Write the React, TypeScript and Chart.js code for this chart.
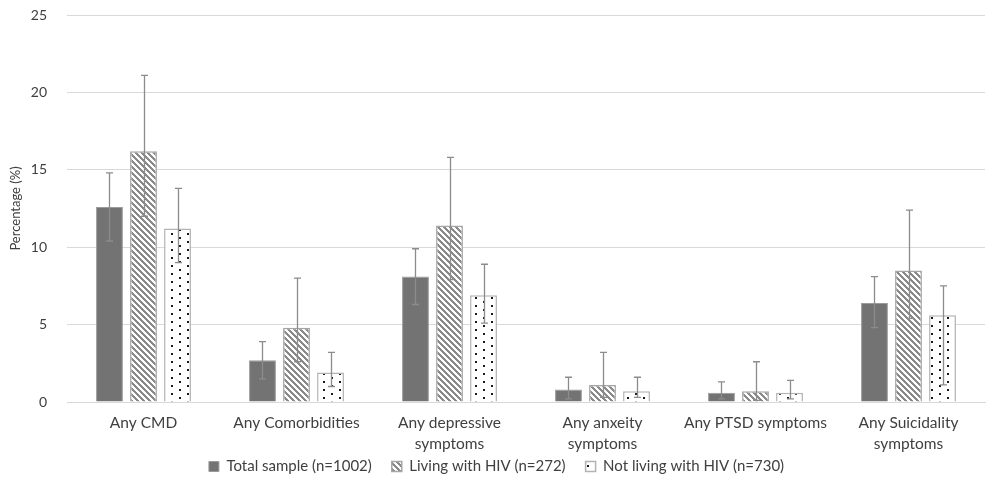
import React, { useEffect, useRef } from "react";
import { Chart, registerables } from "chart.js";

Chart.register(...registerables);

const categories: (string | string[])[] = [
  "Any CMD",
  "Any Comorbidities",
  ["Any depressive", "symptoms"],
  ["Any anxeity", "symptoms"],
  "Any PTSD symptoms",
  ["Any Suicidality", "symptoms"],
];

const seriesNames = ["Total sample (n=1002)", "Living with HIV (n=272)", "Not living with HIV (n=730)"];

const totalValues = [12.6, 2.7, 8.1, 0.8, 0.6, 6.4];
const totalLower = [10.4, 1.5, 6.3, 0.2, 0.2, 4.8];
const totalUpper = [14.8, 3.9, 9.9, 1.6, 1.3, 8.1];

const hivValues = [16.2, 4.8, 11.4, 1.1, 0.7, 8.5];
const hivLower = [12.0, 2.6, 7.9, 0.3, 0.1, 5.4];
const hivUpper = [21.1, 8.0, 15.8, 3.2, 2.6, 12.4];

const nonHivValues = [11.2, 1.9, 6.9, 0.7, 0.6, 5.6];
const nonHivLower = [9.0, 1.0, 5.1, 0.3, 0.2, 1.1];
const nonHivUpper = [13.8, 3.2, 8.9, 1.6, 1.4, 7.5];

const yTicks = [0, 5, 10, 15, 20, 25];

function makeStripePattern(): CanvasPattern | string {
  const s = 6;
  const c = document.createElement("canvas");
  c.width = s;
  c.height = s;
  const ctx = c.getContext("2d");
  if (!ctx) return "#8a8a8a";
  const img = ctx.createImageData(s, s);
  for (let y = 0; y < s; y++) {
    for (let x = 0; x < s; x++) {
      const k = (((x - y) % s) + s) % s;
      const on = k < 3;
      const i = (y * s + x) * 4;
      const v = on ? 0x8a : 0xff;
      img.data[i] = v;
      img.data[i + 1] = v;
      img.data[i + 2] = v;
      img.data[i + 3] = 255;
    }
  }
  ctx.putImageData(img, 0, 0);
  return ctx.createPattern(c, "repeat") || "#8a8a8a";
}

function makeDotPattern(): CanvasPattern | string {
  const c = document.createElement("canvas");
  c.width = 16;
  c.height = 8;
  const ctx = c.getContext("2d");
  if (!ctx) return "#ffffff";
  ctx.fillStyle = "#ffffff";
  ctx.fillRect(0, 0, 16, 8);
  ctx.fillStyle = "#1a1a1a";
  ctx.fillRect(3, 1, 2, 2);
  ctx.fillRect(11, 5, 2, 2);
  return ctx.createPattern(c, "repeat") || "#ffffff";
}

const errorBarPlugin = {
  id: "errorBars",
  afterDatasetsDraw(chart: any) {
    const ctx = chart.ctx;
    const yScale = chart.scales.y;
    ctx.save();
    ctx.strokeStyle = "#8c8c8c";
    ctx.lineWidth = 1.3;
    chart.data.datasets.forEach((ds: any, di: number) => {
      const meta = chart.getDatasetMeta(di);
      if (meta.hidden) return;
      meta.data.forEach((bar: any, i: number) => {
        const lo = ds.errLow[i];
        const hi = ds.errHigh[i];
        const x = Math.round(bar.x) + 0.5;
        const yLo = yScale.getPixelForValue(lo);
        const yHi = yScale.getPixelForValue(hi);
        const cap = 3.5;
        ctx.beginPath();
        ctx.moveTo(x, yLo);
        ctx.lineTo(x, yHi);
        ctx.moveTo(x - cap, yHi);
        ctx.lineTo(x + cap, yHi);
        ctx.moveTo(x - cap, yLo);
        ctx.lineTo(x + cap, yLo);
        ctx.stroke();
      });
    });
    ctx.restore();
  },
};

export default function App() {
  const canvasRef = useRef<HTMLCanvasElement | null>(null);

  useEffect(() => {
    if (!canvasRef.current) return;
    const stripes = makeStripePattern();
    const dots = makeDotPattern();
    const font = "Lato, 'Open Sans', sans-serif";
    const chart = new Chart(canvasRef.current, {
      type: "bar",
      data: {
        labels: categories,
        datasets: [
          {
            label: seriesNames[0],
            data: totalValues,
            backgroundColor: "#737373",
            borderColor: "#9a9a9a",
            borderWidth: 1,
            errLow: totalLower,
            errHigh: totalUpper,
          } as any,
          {
            label: seriesNames[1],
            data: hivValues,
            backgroundColor: stripes,
            borderColor: "#a6a6a6",
            borderWidth: 1.5,
            errLow: hivLower,
            errHigh: hivUpper,
          } as any,
          {
            label: seriesNames[2],
            data: nonHivValues,
            backgroundColor: dots,
            borderColor: "#b3b3b3",
            borderWidth: 1.5,
            errLow: nonHivLower,
            errHigh: nonHivUpper,
          } as any,
        ],
      },
      options: {
        animation: false,
        responsive: true,
        maintainAspectRatio: false,
        layout: { padding: { top: 0, right: 2, left: 0, bottom: -3 } },
        datasets: {
          bar: { categoryPercentage: 0.667, barPercentage: 0.79 },
        },
        plugins: {
          legend: {
            position: "bottom",
            labels: {
              boxWidth: 10,
              boxHeight: 10,
              padding: 20,
              color: "#404040",
              font: { family: font, size: 15 },
            },
          },
          tooltip: { enabled: false },
        },
        scales: {
          x: {
            grid: { display: false, drawTicks: false },
            border: { display: true, color: "#d9d9d9" },
            afterFit: (scale: any) => {
              scale.height = 37;
              // let two-line category labels extend below the scale box
              scale._computeLabelArea = () => undefined;
            },
            ticks: {
              color: "#404040",
              padding: 11,
              maxRotation: 0,
              autoSkip: false,
              font: { family: font, size: 15.5, lineHeight: 1.35 },
            },
          },
          y: {
            min: 0,
            max: 25,
            afterBuildTicks: (scale: any) => {
              scale.ticks = yTicks.map((v) => ({ value: v }));
            },
            afterFit: (scale: any) => {
              scale.width = 59;
            },
            grid: { color: "#d9d9d9", drawTicks: true, tickLength: 20, tickColor: "rgba(0,0,0,0)" },
            border: { display: false },
            ticks: {
              color: "#404040",
              padding: 0,
              font: { family: font, size: 14, lineHeight: 1.0 },
            },
            title: {
              display: true,
              text: "Percentage (%)",
              color: "#404040",
              font: { family: font, size: 13 },
              padding: { top: 0, bottom: 0 },
            },
          },
        },
      },
      plugins: [errorBarPlugin],
    });
    return () => chart.destroy();
  }, []);

  return (
    <div style={{ width: "979px", height: "473px", position: "relative" }}>
      <canvas ref={canvasRef} />
    </div>
  );
}
